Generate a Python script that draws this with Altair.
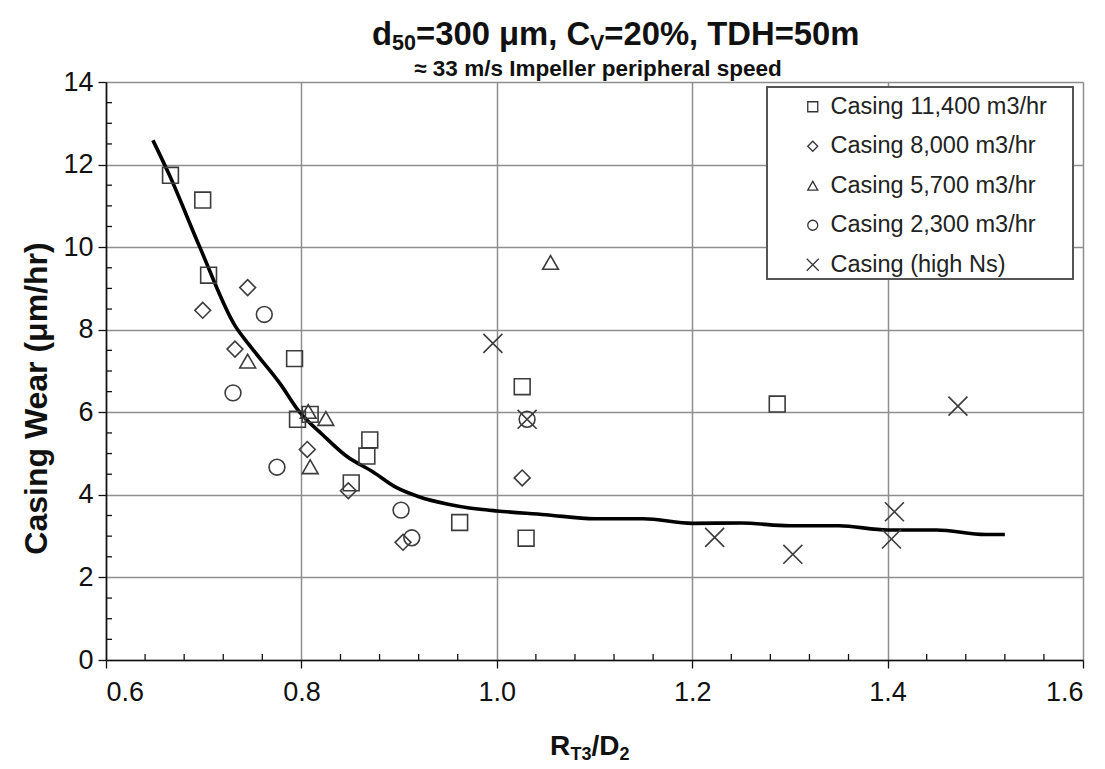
import altair as alt
import pandas as pd

# ---------------- data ----------------
sq_x = [0.666, 0.699, 0.705, 0.793, 0.796, 0.809, 0.870, 0.867, 0.851, 0.962, 1.026, 1.030, 1.287]
sq_y = [11.74, 11.14, 9.32, 7.30, 5.83, 5.95, 5.33, 4.94, 4.29, 3.33, 6.62, 2.95, 6.20]

di_x = [0.745, 0.699, 0.732, 0.806, 0.848, 0.904, 1.026]
di_y = [9.02, 8.47, 7.53, 5.10, 4.10, 2.85, 4.41]

tr_x = [0.745, 0.807, 0.825, 0.809, 1.055]
tr_y = [7.24, 6.02, 5.85, 4.68, 9.63]

ci_x = [0.762, 0.730, 0.775, 0.902, 0.913, 1.031]
ci_y = [8.37, 6.47, 4.67, 3.63, 2.96, 5.83]

xx_x = [0.996, 1.031, 1.223, 1.303, 1.404, 1.407, 1.472]
xx_y = [7.67, 5.83, 2.97, 2.56, 2.93, 3.59, 6.15]

series_names = ["Casing 11,400 m3/hr", "Casing 8,000 m3/hr", "Casing 5,700 m3/hr",
                "Casing 2,300 m3/hr", "Casing (high Ns)"]

line_x = [0.648, 0.665, 0.696, 0.732, 0.747, 0.778, 0.798, 0.822, 0.846, 0.873, 0.897,
          0.921, 0.949, 0.983, 1.0, 1.05, 1.1, 1.15, 1.2, 1.25, 1.3, 1.35, 1.4, 1.45, 1.5, 1.52]
line_y = [12.59, 11.74, 10.0, 8.1, 7.62, 6.70, 6.01, 5.45, 4.94, 4.56, 4.18,
          3.95, 3.78, 3.65, 3.61, 3.52, 3.42, 3.42, 3.31, 3.32, 3.25, 3.25, 3.15, 3.15, 3.04, 3.04]

x_ticks = [0.6, 0.8, 1.0, 1.2, 1.4, 1.6]
y_ticks = [0, 2, 4, 6, 8, 10, 12, 14]
x_minor = [0.64, 0.68, 0.72, 0.76, 0.84, 0.88, 0.92, 0.96, 1.04, 1.08, 1.12, 1.16,
           1.24, 1.28, 1.32, 1.36, 1.44, 1.48, 1.52, 1.56]
y_minor = [0.5, 1.0, 1.5, 2.5, 3.0, 3.5, 4.5, 5.0, 5.5, 6.5, 7.0, 7.5, 8.5, 9.0, 9.5,
           10.5, 11.0, 11.5, 12.5, 13.0, 13.5]

title_parts = ["d", "50", "=300 \u03bcm, C", "V", "=20%, TDH=50m"]
subtitle_text = "\u2248 33 m/s Impeller peripheral speed"
xtitle_parts = ["R", "T3", "/D", "2"]
ytitle_text = "Casing Wear (\u03bcm/hr)"

# ---------------- tables ----------------
rows = []
for name, xs_, ys_ in zip(series_names, [sq_x, di_x, tr_x, ci_x, xx_x],
                          [sq_y, di_y, tr_y, ci_y, xx_y]):
    for a, b in zip(xs_, ys_):
        rows.append({"x": a, "y": b, "series": name})
points_df = pd.DataFrame(rows)
line_df = pd.DataFrame({"x": line_x, "y": line_y})

W, H = 977, 578
FONT = "Liberation Sans"
GRID = "#8e8e8e"

xs = alt.Scale(domain=[0.6, 1.6], nice=False, zero=False)
ys = alt.Scale(domain=[0, 14], nice=False)

x_axis = alt.Axis(values=x_ticks, format=".1f", title=None, labelFontSize=27, labelFont=FONT,
                  labelColor="#111", labelPadding=11, tickSize=8, tickColor="#111", tickWidth=1.3,
                  domainColor="#111", domainWidth=1.6, grid=True, gridColor=GRID, gridWidth=1.5)
y_axis = alt.Axis(values=y_ticks, format="d", title=ytitle_text, labelFontSize=27, labelFont=FONT,
                  labelColor="#111", labelPadding=5, tickSize=8, tickColor="#111", tickWidth=1.3,
                  domainColor="#111", domainWidth=1.6, grid=True, gridColor=GRID, gridWidth=1.5,
                  titleFont=FONT, titleFontSize=32, titleFontWeight="bold", titleColor="#111",
                  titlePadding=9, titleY=316)


def X(field):
    return alt.X(field, type="quantitative", scale=xs, axis=x_axis)


def Y(field):
    return alt.Y(field, type="quantitative", scale=ys, axis=y_axis)


one = pd.DataFrame({"k": [0]})

# legend frame (decoration)
frame = alt.Chart(one).mark_rect(fill="white", stroke="#555", strokeWidth=2).encode(
    x=alt.value(661), x2=alt.value(967), y=alt.value(5), y2=alt.value(197))

curve = alt.Chart(line_df).mark_line(color="black", strokeWidth=3.6, interpolate="monotone").encode(
    x=X("x"), y=Y("y"))

pts = alt.Chart(points_df).mark_point(filled=False, size=250, strokeWidth=1.6, color="#3c3c3c",
                                      opacity=1).encode(
    x=X("x"), y=Y("y"),
    shape=alt.Shape("series:N",
                    scale=alt.Scale(domain=series_names,
                                    range=["square", "diamond", "triangle-up", "circle",
                                           "M-1.2,-1.2L1.2,1.2M1.2,-1.2L-1.2,1.2"]),
                    legend=alt.Legend(title=None, orient="none", legendX=695, legendY=13,
                                      labelFontSize=23.5, labelFont=FONT, labelColor="#222",
                                      symbolSize=100, symbolStrokeWidth=1.3,
                                      symbolStrokeColor="#333", symbolFillColor="white",
                                      rowPadding=14.5, labelOffset=6, padding=0,
                                      labelLimit=400)),
)

xminor = alt.Chart(pd.DataFrame({"v": x_minor})).mark_rule(color="#111", strokeWidth=1.3).encode(
    x=X("v"), y=alt.value(H), y2=alt.value(H - 6))
yminor = alt.Chart(pd.DataFrame({"v": y_minor})).mark_rule(color="#111", strokeWidth=1.3).encode(
    y=Y("v"), x=alt.value(0), x2=alt.value(6))


def txt(t, x, y, size, align="left"):
    return alt.Chart(pd.DataFrame({"t": [t]})).mark_text(
        align=align, baseline="alphabetic", fontSize=size, fontWeight="bold", font=FONT,
        color="#111").encode(x=alt.value(x), y=alt.value(y), text="t:N")


# title with subscripts
t_sizes = [32.8, 21.5, 32.8, 21.5, 32.8]
t_xpos = [266, 286, 310, 484, 498.3]
t_ypos = [-37, -32, -37, -32, -37]
title_layers = [txt(t, xp, yp, s) for t, xp, yp, s in zip(title_parts, t_xpos, t_ypos, t_sizes)]
sub_layer = txt(subtitle_text, 492, -6, 22.5, align="center")

xt_sizes = [28, 18, 28, 18]
xt_xpos = [444, 464.5, 485.5, 513.5]
xt_ypos = [673, 678, 673, 678]
xtitle_layers = [txt(t, xp, yp, s) for t, xp, yp, s in zip(xtitle_parts, xt_xpos, xt_ypos, xt_sizes)]

chart = alt.layer(frame, curve, pts, xminor, yminor, *title_layers, sub_layer, *xtitle_layers).properties(
    width=W, height=H,
    autosize=alt.AutoSizeParams(type="none"),
    padding={"left": 98, "top": 74, "right": 14, "bottom": 105},
).configure_view(stroke=GRID, strokeWidth=1.5).configure(background="white")

chart.save("out.html", embed_options={"renderer": "svg", "actions": False})
